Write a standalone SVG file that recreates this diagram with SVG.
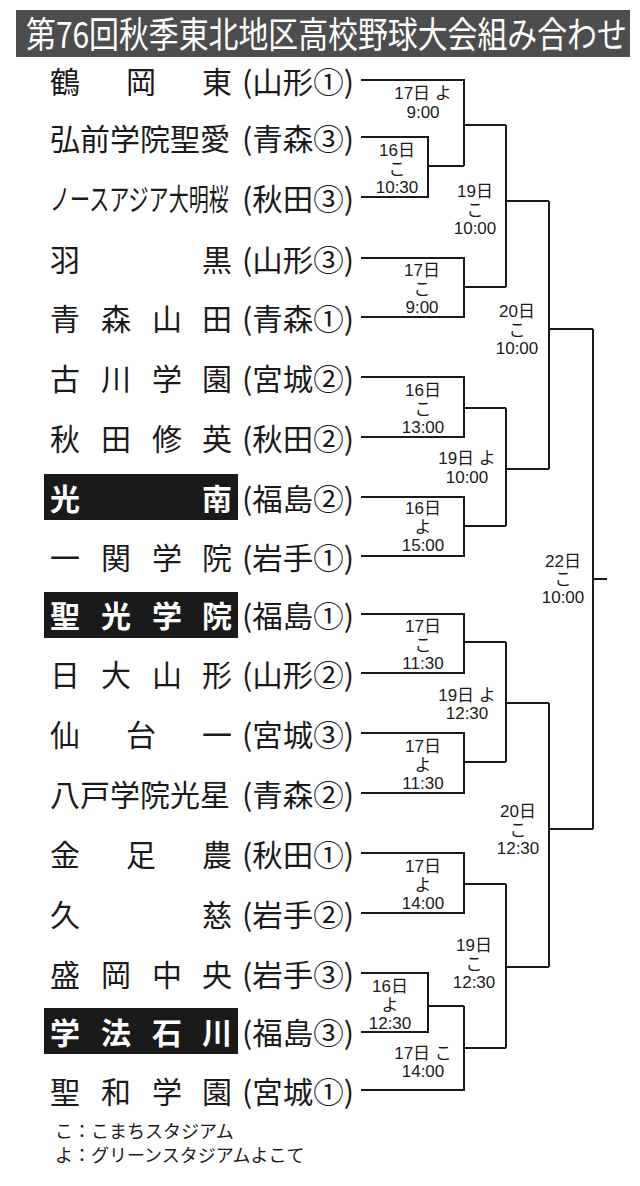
<svg xmlns="http://www.w3.org/2000/svg" width="640" height="1186" viewBox="0 0 640 1186">
<style>
.nm{font-family:"Noto Sans CJK JP","Noto Sans",sans-serif;font-size:30px;fill:#1a1a1a}
.nmw{font-family:"Noto Sans CJK JP","Noto Sans",sans-serif;font-size:30px;fill:#fff;font-weight:bold}
.pf{font-family:"Noto Sans CJK JP","Noto Sans",sans-serif;font-size:30px;fill:#1a1a1a}
.lb{font-family:"Liberation Sans","Noto Sans CJK JP",sans-serif;font-size:17px;fill:#1a1a1a;text-anchor:middle}
.ft{font-family:"Noto Sans CJK JP","Noto Sans",sans-serif;font-size:18px;fill:#1a1a1a}
.box{fill:#1a1a1a}
.ln{fill:none;stroke:#1a1a1a;stroke-width:2}
</style>
<rect width="640" height="1186" fill="#fff"/>
<g id="title">
<rect x="16" y="10" width="614" height="47" fill="#4d4d4d"/>
<text transform="translate(26,48) scale(0.83,1)" x="0" y="0" font-family="Noto Sans CJK JP, sans-serif" font-size="36" fill="#fff">第76回秋季東北地区高校野球大会組み合わせ</text>
</g>
<g id="teams">
<g id="t1"><text class="nm" x="50 126 202" y="93">鶴岡東</text><text class="pf" x="242" y="93" textLength="112" lengthAdjust="spacingAndGlyphs">(山形①)</text></g>
<g id="t2"><text class="nm" x="50" y="150">弘前学院聖愛</text><text class="pf" x="242" y="150" textLength="112" lengthAdjust="spacingAndGlyphs">(青森③)</text></g>
<g id="t3"><text class="nm" transform="translate(50,210) scale(0.67,1)" x="0" y="0">ノースアジア大明桜</text><text class="pf" x="242" y="210" textLength="112" lengthAdjust="spacingAndGlyphs">(秋田③)</text></g>
<g id="t4"><text class="nm" x="50 202" y="271">羽黒</text><text class="pf" x="242" y="271" textLength="112" lengthAdjust="spacingAndGlyphs">(山形③)</text></g>
<g id="t5"><text class="nm" x="50 101 152 202" y="330">青森山田</text><text class="pf" x="242" y="330" textLength="112" lengthAdjust="spacingAndGlyphs">(青森①)</text></g>
<g id="t6"><text class="nm" x="50 101 152 202" y="390">古川学園</text><text class="pf" x="242" y="390" textLength="112" lengthAdjust="spacingAndGlyphs">(宮城②)</text></g>
<g id="t7"><text class="nm" x="50 101 152 202" y="450">秋田修英</text><text class="pf" x="242" y="450" textLength="112" lengthAdjust="spacingAndGlyphs">(秋田②)</text></g>
<g id="t8"><rect class="box" x="44" y="474" width="194" height="46"/><text class="nmw" x="50 202" y="510">光南</text><text class="pf" x="242" y="510" textLength="112" lengthAdjust="spacingAndGlyphs">(福島②)</text></g>
<g id="t9"><text class="nm" x="50 101 152 202" y="569">一関学院</text><text class="pf" x="242" y="569" textLength="112" lengthAdjust="spacingAndGlyphs">(岩手①)</text></g>
<g id="t10"><rect class="box" x="44" y="592" width="194" height="46"/><text class="nmw" x="50 101 152 202" y="627">聖光学院</text><text class="pf" x="242" y="627" textLength="112" lengthAdjust="spacingAndGlyphs">(福島①)</text></g>
<g id="t11"><text class="nm" x="50 101 152 202" y="686">日大山形</text><text class="pf" x="242" y="686" textLength="112" lengthAdjust="spacingAndGlyphs">(山形②)</text></g>
<g id="t12"><text class="nm" x="50 126 202" y="746">仙台一</text><text class="pf" x="242" y="746" textLength="112" lengthAdjust="spacingAndGlyphs">(宮城③)</text></g>
<g id="t13"><text class="nm" x="50" y="806">八戸学院光星</text><text class="pf" x="242" y="806" textLength="112" lengthAdjust="spacingAndGlyphs">(青森②)</text></g>
<g id="t14"><text class="nm" x="50 126 202" y="866">金足農</text><text class="pf" x="242" y="866" textLength="112" lengthAdjust="spacingAndGlyphs">(秋田①)</text></g>
<g id="t15"><text class="nm" x="50 202" y="926">久慈</text><text class="pf" x="242" y="926" textLength="112" lengthAdjust="spacingAndGlyphs">(岩手②)</text></g>
<g id="t16"><text class="nm" x="50 101 152 202" y="986">盛岡中央</text><text class="pf" x="242" y="986" textLength="112" lengthAdjust="spacingAndGlyphs">(岩手③)</text></g>
<g id="t17"><rect class="box" x="44" y="1008" width="194" height="46"/><text class="nmw" x="50 101 152 202" y="1044">学法石川</text><text class="pf" x="242" y="1044" textLength="112" lengthAdjust="spacingAndGlyphs">(福島③)</text></g>
<g id="t18"><text class="nm" x="50 101 152 202" y="1103">聖和学園</text><text class="pf" x="242" y="1103" textLength="112" lengthAdjust="spacingAndGlyphs">(宮城①)</text></g>
</g>
<g id="connectors" class="ln">
<path d="M361 80H464V166M361 137H428V197H361M428 166H464M464 125H506"/>
<path d="M361 258H464V317H361M464 287H506M506 125V287M506 201H549"/>
<path d="M361 377H464V437H361M464 408H506M361 497H464V556H361M464 526H506M506 408V526M506 469H549"/>
<path d="M549 201V469M549 329H593"/>
<path d="M361 614H464V673H361M464 642H506M361 733H464V793H361M464 762H506M506 642V762M506 703H549"/>
<path d="M361 853H464V913H361M464 884H506M361 973H428V1032H361M428 1006H464M361 1090H464V1006M464 1048H506M506 884V1048M506 967H549"/>
<path d="M549 703V967M549 829H593M593 329V829M593 579H607"/>
</g>
<g id="labels">
<text class="lb" x="423" y="99">17日 よ</text><text class="lb" x="423" y="118">9:00</text>
<text class="lb" x="397" y="156">16日</text><text class="lb" x="397" y="174.5">こ</text><text class="lb" x="397" y="193">10:30</text>
<text class="lb" x="475" y="197">19日</text><text class="lb" x="475" y="215.5">こ</text><text class="lb" x="475" y="234">10:00</text>
<text class="lb" x="422" y="276">17日</text><text class="lb" x="422" y="294.5">こ</text><text class="lb" x="422" y="313">9:00</text>
<text class="lb" x="517" y="317">20日</text><text class="lb" x="517" y="335.5">こ</text><text class="lb" x="517" y="354">10:00</text>
<text class="lb" x="423" y="396">16日</text><text class="lb" x="423" y="414.5">こ</text><text class="lb" x="423" y="433">13:00</text>
<text class="lb" x="467" y="464">19日 よ</text><text class="lb" x="467" y="483">10:00</text>
<text class="lb" x="423" y="514">16日</text><text class="lb" x="423" y="532.5">よ</text><text class="lb" x="423" y="551">15:00</text>
<text class="lb" x="563" y="567">22日</text><text class="lb" x="563" y="585">こ</text><text class="lb" x="563" y="603">10:00</text>
<text class="lb" x="423" y="632">17日</text><text class="lb" x="423" y="650.5">こ</text><text class="lb" x="423" y="669">11:30</text>
<text class="lb" x="467" y="701">19日 よ</text><text class="lb" x="467" y="719">12:30</text>
<text class="lb" x="423" y="752">17日</text><text class="lb" x="423" y="770.5">よ</text><text class="lb" x="423" y="789">11:30</text>
<text class="lb" x="518" y="817">20日</text><text class="lb" x="518" y="835.5">こ</text><text class="lb" x="518" y="854">12:30</text>
<text class="lb" x="423" y="872">17日</text><text class="lb" x="423" y="890.5">よ</text><text class="lb" x="423" y="909">14:00</text>
<text class="lb" x="474" y="951">19日</text><text class="lb" x="474" y="969.5">こ</text><text class="lb" x="474" y="988">12:30</text>
<text class="lb" x="390" y="992">16日</text><text class="lb" x="390" y="1010.5">よ</text><text class="lb" x="390" y="1029">12:30</text>
<text class="lb" x="423" y="1059">17日 こ</text><text class="lb" x="423" y="1077">14:00</text>
</g>
<g id="legend">
<text class="ft" x="55" y="1138">こ：こまちスタジアム</text>
<text class="ft" x="55" y="1162">よ：グリーンスタジアムよこて</text>
</g>
</svg>
